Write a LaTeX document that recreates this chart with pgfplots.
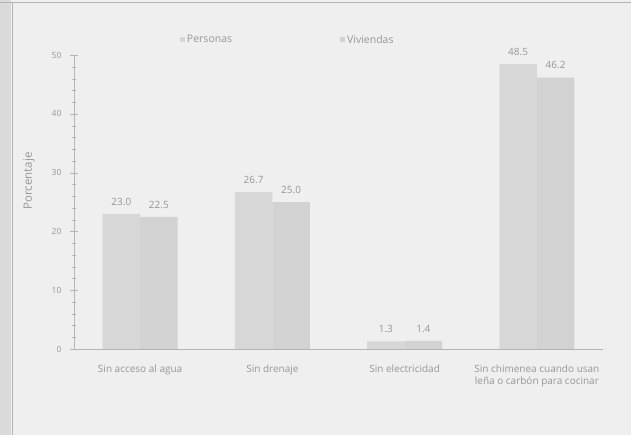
\documentclass[border=0pt]{standalone}
\usepackage{fontspec}
\setmainfont{Open Sans}
\usepackage{pgfplots}
\pgfplotsset{compat=1.18}
\definecolor{bgc}{HTML}{EFEFEF}
\definecolor{edge}{HTML}{DADADA}
\definecolor{txt}{HTML}{969696}
\definecolor{axc}{HTML}{B4B4B4}
\definecolor{barP}{HTML}{D7D7D7}
\definecolor{barV}{HTML}{D2D2D2}
\begin{document}
\begin{tikzpicture}
\path[use as bounding box] (-74pt,-86pt) rectangle (557pt,349pt);
\fill[bgc] (-74pt,-86pt) rectangle (557pt,349pt);
\fill[edge] (-74pt,-86pt) rectangle (-63pt,349pt);
\draw[axc, line width=0.8pt] (-62pt,-86pt) -- (-62pt,346pt);
\draw[axc, line width=1pt] (-74pt,346pt) -- (557pt,346pt);
\begin{axis}[
  at={(0,0)}, anchor=south west,
  scale only axis, width=529pt, height=293.8pt,
  xmin=-0.5, xmax=3.5, ymin=0, ymax=50,
  axis x line=bottom, axis y line=left,
  axis line style={axc, -},
  clip=false,
  ybar=0pt, bar width=37.5pt,
  font=\fontsize{10.5}{13}\selectfont,
  every tick label/.append style={text=txt},
  /pgf/number format/assume math mode=true,
  ytick={0,10,20,30,40,50},
  minor y tick num=4,
  tick align=center,
  major tick length=8pt, minor tick length=3pt,
  y tick style={axc},
  xtick={0,1,2,3},
  xticklabels={Sin acceso al agua, Sin drenaje, Sin electricidad, {Sin chimenea cuando usan\\le\~na o carb\'on para cocinar}},
  x tick style={draw=none},
  xticklabel style={align=center, yshift=-8pt, text=txt, font=\fontsize{10}{12.5}\selectfont},
  extra x ticks={0.5,1.5,2.5},
  extra x tick labels={},
  extra x tick style={major tick length=6pt, tick align=outside, tick style={axc}},
  yticklabel style={xshift=-5pt, font=\fontsize{8.5}{10}\selectfont},
  ylabel={Porcentaje},
  ylabel style={at={(axis description cs:-0.085,0.572)}, anchor=center, text=txt, font=\fontsize{11.5}{13}\selectfont},
  nodes near coords,
  nodes near coords style={text=txt, font=\fontsize{10}{12}\selectfont, yshift=5pt, /pgf/number format/fixed, /pgf/number format/fixed zerofill, /pgf/number format/precision=1},
  legend columns=2,
  legend style={at={(0.2,1.052)}, anchor=west, draw=none, fill=none, inner sep=0pt, text=txt, font=\fontsize{10.5}{13}\selectfont, /tikz/every even column/.append style={column sep=106pt}},
  legend image code/.code={\fill[#1] (0pt,-2.5pt) rectangle (5pt,2.5pt);},
]
\addplot[fill=barP, draw=none] coordinates {(0,23.0) (1,26.7) (2,1.3) (3,48.5)};
\addlegendentry{Personas}
\addplot[fill=barV, draw=none] coordinates {(0,22.5) (1,25.0) (2,1.4) (3,46.2)};
\addlegendentry{Viviendas}
\end{axis}
\end{tikzpicture}
\end{document}
